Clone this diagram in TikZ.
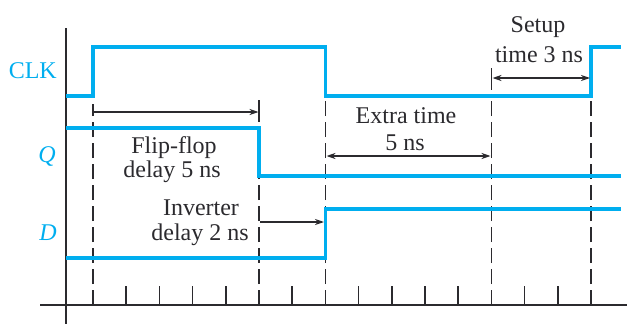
\documentclass[tikz,border=0pt]{standalone}
\usepackage{fontspec}
\setmainfont{Liberation Serif}
\usetikzlibrary{arrows.meta}
\definecolor{sig}{HTML}{00AEEF}
\definecolor{ink}{HTML}{2B2A2E}
\begin{document}
\begin{tikzpicture}[x=1pt,y=-1pt,
  signal/.style={sig, line width=3.2pt, line join=miter},
  axis/.style={ink, line width=1.6pt},
  guide/.style={ink, line width=1.6pt, dash pattern=on 15pt off 6pt},
  lbl/.style={font=\fontsize{24}{25}\selectfont, text=ink, inner sep=0pt, anchor=base},
  sigl/.style={font=\fontsize{24}{25}\selectfont, text=sig, inner sep=0pt, anchor=base east},
  arr/.style={ink, line width=1.2pt, -{Stealth[length=9pt,width=6pt]}},
  darr/.style={ink, line width=1.2pt, {Stealth[length=9pt,width=6pt]}-{Stealth[length=9pt,width=6pt]}},
]
\useasboundingbox (0,0) rectangle (627,324);

% tick coordinates
\foreach \k in {0,...,15} {\coordinate (t\k) at ({93+33.2*\k},305);}

% axes
\coordinate (ytop) at (66,28);
\coordinate (ybot) at (66,324);
\coordinate (xl) at (40,305);
\coordinate (xr) at (627,305);
\draw[axis] (ytop) -- (ybot);
\draw[axis] (xl) -- (xr);

% ticks
\foreach \k in {1,2,3,4,6,8,9,10,11,13,14} {\draw[axis] (t\k) -- ++(0,-19);}

% dashed guides
\draw[guide] (t0) -- ++(0,-201);
\draw[guide] (t5) -- ++(0,-129);
\draw[guide] (t7) -- ++(0,-209);
\draw[guide] (t12) -- ++(0,-209);
\draw[guide] (t15) -- ++(0,-209);

% bars
\coordinate (b1a) at (259,100); \coordinate (b1b) at (259,122);
\draw[axis] (b1a) -- (b1b);
\coordinate (b2a) at (491.4,68); \coordinate (b2b) at (491.4,90);
\draw[axis] (b2a) -- (b2b);

% signals
\draw[signal] (66,96) -- (93,96) -- (93,47) -- (325.4,47) -- (325.4,96) -- (591,96) -- (591,47) -- (621,47);
\draw[signal] (66,128) -- (259,128) -- (259,176) -- (621,176);
\draw[signal] (66,258) -- (325.4,258) -- (325.4,209) -- (621,209);

% arrows
\coordinate (ffa) at (93,112); \coordinate (ffb) at (258.5,112);
\draw[arr] (ffa) -- (ffb);
\coordinate (iva) at (260,222); \coordinate (ivb) at (324,222);
\draw[arr] (iva) -- (ivb);
\coordinate (exa) at (326.5,156); \coordinate (exb) at (490.5,156);
\draw[darr] (exa) -- (exb);
\coordinate (sta) at (492.5,78); \coordinate (stb) at (590,78);
\draw[darr] (sta) -- (stb);

% signal labels
\node[sigl] (clk) at (57,78) {CLK};
\node[sigl] (q) at (56,162) {\itshape Q};
\node[sigl] (d) at (57,240) {\itshape D};

% annotations
\node[lbl] (ff1) at (174,153) {Flip-flop};
\node[lbl] (ff2) at (172,177) {delay 5 ns};
\node[lbl] (iv1) at (201,215) {Inverter};
\node[lbl] (iv2) at (200,240) {delay 2 ns};
\node[lbl] (ex1) at (406,123) {Extra time};
\node[lbl] (ex2) at (405,150) {5 ns};
\node[lbl] (st1) at (538,32) {Setup};
\node[lbl] (st2) at (539,62) {time 3 ns};
\end{tikzpicture}
\end{document}
